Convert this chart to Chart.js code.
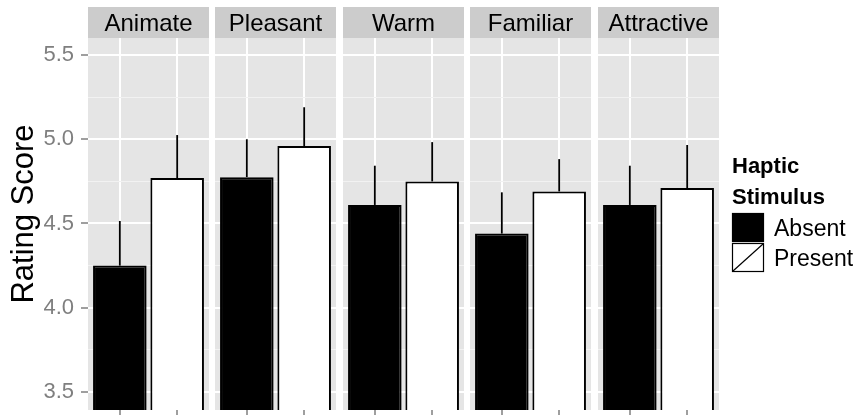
<!DOCTYPE html>
<html lang="en">
<head>
<meta charset="UTF-8">
<title>Rating Score by Haptic Stimulus</title>
<script src="https://cdn.jsdelivr.net/npm/chart.js"></script>
<style>
  body { margin: 0; background: #fff; }
  #wrap { position: relative; width: 862px; height: 415px; overflow: hidden; }
  #wrap canvas { position: absolute; top: 0; }
</style>
</head>
<body>
<div id="wrap"></div>
<script>
  // data
  const facets = ['Animate', 'Pleasant', 'Warm', 'Familiar', 'Attractive'];
  const stimulus = ['Absent', 'Present'];
  const absentMean = [4.25, 4.775, 4.61, 4.44, 4.61];
  const presentMean = [4.77, 4.96, 4.75, 4.69, 4.71];
  const absentErr = [0.265, 0.225, 0.233, 0.245, 0.233];
  const presentErr = [0.255, 0.23, 0.233, 0.192, 0.256];
  const yTicks = [3.5, 4.0, 4.5, 5.0, 5.5];
  const yMinorTicks = [3.75, 4.25, 4.75, 5.25];
  const yTitle = 'Rating Score';
  const legendTitle = ['Haptic', 'Stimulus'];

  const FONT = "'Liberation Sans', Arial, Helvetica, sans-serif";
  const panelLeft = [88, 215, 343, 470, 598];
  const panelWidth = 121;
  const legendSpace = 143;
  const allYTicks = yTicks.concat(yMinorTicks).sort((a, b) => a - b);

  const panelPlugin = {
    id: 'panel',
    beforeDraw(chart, args, opts) {
      const { ctx, chartArea: a } = chart;
      ctx.save();
      ctx.fillStyle = '#e5e5e5';
      ctx.fillRect(a.left, a.top, a.right - a.left, a.bottom - a.top);
      ctx.fillStyle = '#cccccc';
      ctx.fillRect(a.left, 7, a.right - a.left, a.top - 7);
      ctx.fillStyle = '#000';
      ctx.font = '24px ' + FONT;
      ctx.textAlign = 'center';
      ctx.textBaseline = 'alphabetic';
      ctx.fillText(opts.label, (a.left + a.right) / 2, 31);
      ctx.restore();
    },
    afterDatasetsDraw(chart, args, opts) {
      // upper error bars
      const { ctx } = chart;
      const ds = chart.data.datasets[0];
      const meta = chart.getDatasetMeta(0);
      const ys = chart.scales.y;
      ctx.save();
      ctx.strokeStyle = '#000';
      ctx.lineWidth = 1.8;
      meta.data.forEach((bar, j) => {
        const top = ys.getPixelForValue(ds.data[j].y + ds.errors[j]);
        ctx.beginPath();
        ctx.moveTo(bar.x, bar.y);
        ctx.lineTo(bar.x, top);
        ctx.stroke();
      });
      ctx.restore();
    },
    afterDraw(chart, args, opts) {
      const { ctx } = chart;
      if (opts.yTitle) {
        ctx.save();
        ctx.translate(33, 214);
        ctx.rotate(-Math.PI / 2);
        ctx.fillStyle = '#000';
        ctx.font = '31px ' + FONT;
        ctx.textAlign = 'center';
        ctx.textBaseline = 'alphabetic';
        ctx.fillText(yTitle, 0, 0);
        ctx.restore();
      }
      if (opts.legend) {
        const ds = chart.data.datasets[0];
        const x = chart.chartArea.right + 13;
        ctx.save();
        ctx.fillStyle = '#000';
        ctx.font = 'bold 22px ' + FONT;
        ctx.textBaseline = 'alphabetic';
        ctx.fillText(legendTitle[0], x, 173);
        ctx.fillText(legendTitle[1], x, 204);
        ctx.font = '23px ' + FONT;
        stimulus.forEach((s, j) => {
          const ky = 213 + j * 30;
          ctx.fillStyle = ds.backgroundColor[j];
          ctx.fillRect(x, ky, 32, 29);
          ctx.strokeStyle = '#000';
          ctx.lineWidth = 1.2;
          ctx.strokeRect(x + 0.5, ky + 0.5, 31, 28);
          if (j === 1) {
            ctx.beginPath();
            ctx.moveTo(x + 1, ky + 28);
            ctx.lineTo(x + 31, ky + 1);
            ctx.stroke();
          }
          ctx.fillStyle = '#000';
          ctx.fillText(s, x + 42, ky + 23);
        });
        ctx.restore();
      }
    }
  };

  const wrap = document.getElementById('wrap');

  facets.forEach((name, i) => {
    const first = i === 0;
    const last = i === facets.length - 1;
    const left = first ? 0 : panelLeft[i];
    const width = panelLeft[i] + panelWidth - left + (last ? legendSpace : 0);
    const canvas = document.createElement('canvas');
    canvas.width = width;
    canvas.height = 415;
    canvas.style.left = left + 'px';
    wrap.appendChild(canvas);

    new Chart(canvas, {
      type: 'bar',
      data: {
        datasets: [{
          label: name,
          data: [
            { x: 1, y: absentMean[i] },
            { x: 2, y: presentMean[i] }
          ],
          errors: [absentErr[i], presentErr[i]],
          backgroundColor: ['#000000', '#ffffff'],
          borderColor: '#000000',
          borderWidth: 2,
          borderSkipped: 'bottom',
          barPercentage: 0.934,
          categoryPercentage: 1
        }]
      },
      options: {
        responsive: false,
        animation: false,
        devicePixelRatio: 1,
        layout: { padding: { top: 38, left: 0, right: last ? legendSpace : 0, bottom: 0 } },
        plugins: {
          legend: { display: false },
          tooltip: { enabled: false },
          panel: { label: name, yTitle: first, legend: last }
        },
        scales: {
          x: {
            type: 'linear',
            min: 0.445,
            max: 2.555,
            offset: false,
            afterBuildTicks: s => { s.ticks = [{ value: 1 }, { value: 2 }]; },
            afterFit: s => { s.height = 5; s.paddingLeft = 0; s.paddingRight = 0; },
            ticks: { callback: () => '' },
            grid: {
              offset: false,
              color: '#ffffff',
              lineWidth: 2,
              drawTicks: true,
              tickLength: 5,
              tickColor: '#7f7f7f',
              tickWidth: 1.5
            },
            border: { display: false }
          },
          y: {
            min: 3.393,
            max: 5.601,
            afterBuildTicks: s => { s.ticks = allYTicks.map(v => ({ value: v })); },
            afterFit: s => {
              s.width = first ? panelLeft[0] : 0;
              s.paddingTop = 0;
              s.paddingBottom = 0;
            },
            ticks: {
              display: first,
              padding: 7,
              color: '#7f7f7f',
              font: { family: FONT, size: 22 },
              callback: v => yTicks.includes(v) ? v.toFixed(1) : ''
            },
            grid: {
              color: c => yTicks.includes(c.tick.value) ? '#ffffff' : '#f2f2f2',
              lineWidth: c => yTicks.includes(c.tick.value) ? 2 : 1,
              drawTicks: first,
              tickLength: 7,
              tickColor: c => yTicks.includes(c.tick.value) ? '#7f7f7f' : 'rgba(0,0,0,0)',
              tickWidth: 1.5
            },
            border: { display: false }
          }
        }
      },
      plugins: [panelPlugin]
    });
  });
</script>
</body>
</html>
